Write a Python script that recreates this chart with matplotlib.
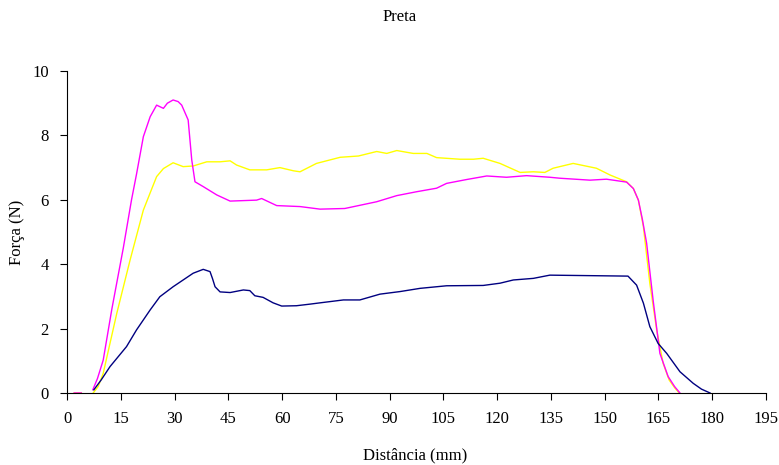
import numpy as np
import matplotlib.pyplot as plt

plt.rcParams['font.family'] = ['Liberation Serif', 'DejaVu Serif']

# Distância (mm) / Força (N)
x_mag = [2, 4, np.nan, 7.2, 8.5, 10.1, 12.5, 15.7, 18, 19.4, 21.3, 23.2, 25, 26.9, 28, 29.6, 31,
         32, 33.8, 34.8, 35.7, 38, 41.8, 45.5, 52.9, 54.3, 58.5, 65, 70.6, 77.5, 86.4, 92,
         97.5, 103.1, 105.9, 111.5, 117.1, 122.6, 128.2, 134.7, 137.5, 145.9, 150.5, 156.1,
         158, 159.4, 160.5, 161.7, 163.5, 165.4, 167.7, 169.5, 171]
y_mag = [0, 0, np.nan, 0.1, 0.45, 1.02, 2.6, 4.5, 6.0, 6.8, 7.96, 8.58, 8.94, 8.84, 9.0, 9.1, 9.05,
         8.94, 8.48, 7.24, 6.56, 6.41, 6.15, 5.96, 5.99, 6.04, 5.82, 5.79, 5.71, 5.73, 5.94, 6.13,
         6.25, 6.36, 6.51, 6.63, 6.74, 6.70, 6.75, 6.70, 6.67, 6.61, 6.64, 6.55,
         6.35, 5.99, 5.4, 4.65, 2.89, 1.23, 0.51, 0.2, 0]

x_yel = [2, 4, np.nan, 7.3, 8.7, 10.1, 13.9, 17.6, 21.3, 23.5, 25, 26.9, 29.6, 32.4, 35.2, 39,
         42.7, 45.5, 47.3, 51, 55.7, 59.4, 63.2, 65, 69.6, 76.2, 81.3, 86.4, 89.2, 92, 96.6,
         100.4, 103.1, 109.6, 113.4, 116.1, 120.8, 126.4, 130.1, 133.3, 135.6, 141.2, 147.7,
         151.5, 156.1, 158, 159.4, 160.8, 162.6, 164.5, 166.3, 168, 169.6, 170.8]
y_yel = [0, 0, np.nan, 0, 0.2, 0.61, 2.48, 4.13, 5.68, 6.3, 6.72, 6.97, 7.15, 7.03, 7.05, 7.18,
         7.18, 7.21, 7.08, 6.93, 6.93, 7.0, 6.9, 6.87, 7.13, 7.32, 7.36, 7.5, 7.44, 7.53, 7.44,
         7.44, 7.31, 7.26, 7.26, 7.29, 7.13, 6.85, 6.87, 6.85, 6.98, 7.13, 6.98,
         6.77, 6.56, 6.35, 5.99, 5.16, 3.4, 1.96, 0.92, 0.4, 0.15, 0]

x_nav = [7.5, 9.5, 12, 16.6, 19.4, 23.2, 25.9, 29.6, 32.4, 35.2, 38, 39.9, 40.6, 41.3, 42.7,
         45.5, 49.2, 51, 52.4, 54.7, 57.5, 59.9, 64, 67.8, 70.6, 77.1, 81.7, 87.3, 92.9, 98.5,
         105.9, 116.1, 120.8, 124.5, 130.1, 134.7, 156.5, 158.9, 160.8, 162.6, 164.9, 167.3,
         171, 174.7, 177, 179.4]
y_nav = [0.1, 0.4, 0.82, 1.44, 1.96, 2.58, 2.99, 3.3, 3.51, 3.72, 3.84, 3.77, 3.55, 3.3, 3.14,
         3.12, 3.2, 3.18, 3.02, 2.97, 2.8, 2.7, 2.71, 2.76, 2.8, 2.89, 2.89, 3.07, 3.15, 3.25,
         3.33, 3.34, 3.41, 3.51, 3.56, 3.66, 3.63, 3.35, 2.79, 2.06, 1.54, 1.23,
         0.66, 0.3, 0.12, 0]

fig = plt.figure(figsize=(7.79, 4.65), dpi=100)
ax = fig.add_axes([67/779, 1 - 393/465, 699/779, 322/465])

ax.plot(x_yel, y_yel, color='#FFFF00', lw=1.0)
ax.plot(x_mag, y_mag, color='#FF00FF', lw=1.0)
ax.plot(x_nav, y_nav, color='#000080', lw=1.0)

ax.set_xlim(0, 195)
ax.set_ylim(0, 10)
ax.set_xticks(range(0, 196, 15))
ax.set_yticks(range(0, 11, 2))
ax.spines['top'].set_visible(False)
ax.spines['right'].set_visible(False)
ax.tick_params(direction='out', length=5, labelsize=12, pad=8)

fig.text(400/779, 1 - 17/465, 'Preta', ha='center', va='center', fontsize=12)
fig.text(415/779, 1 - 455/465, 'Distância (mm)', ha='center', va='center', fontsize=12)
fig.text(17/779, 1 - 232/465, 'Força (N)', ha='center', va='center', rotation=90, fontsize=12)

fig.savefig('out.png', dpi=100)
